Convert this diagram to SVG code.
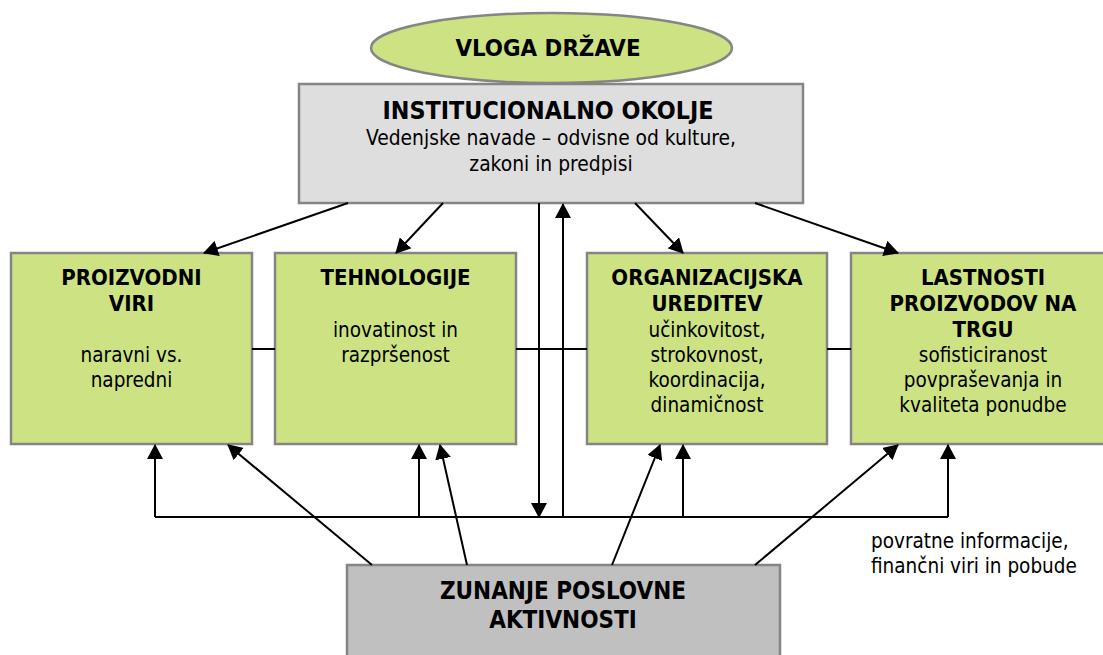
<svg xmlns="http://www.w3.org/2000/svg" width="1103" height="655" viewBox="0 0 1103 655">
<style>
.green{fill:#CDE383;stroke:#858585;stroke-width:2.5}
.inst{fill:#DEDEDE;stroke:#858585;stroke-width:2.5}
.ext{fill:#C0C0C0;stroke:#858585;stroke-width:2.5}
text{font-family:"DejaVu Sans Condensed","DejaVu Sans",Verdana,sans-serif;font-stretch:condensed;fill:#000}
.t{text-anchor:middle}
.h{font-weight:bold;font-size:22px}
.b{font-size:20.5px}
.c line{stroke:#000;stroke-width:2;fill:none}
</style>
<defs>
<marker id="ah" viewBox="0 0 15 16" refX="14" refY="8" markerWidth="15" markerHeight="16" markerUnits="userSpaceOnUse" orient="auto">
<path d="M0,0 L15,8 L0,16 z" fill="#000"/>
</marker>
</defs>
<g id="vloga">
<ellipse cx="551.5" cy="48" rx="180.5" ry="35" class="green"/>
<text class="t" x="548" y="56" font-weight="bold" font-size="23.8">VLOGA DRŽAVE</text>
</g>
<g id="institucionalno">
<rect x="299" y="84" width="504" height="119" class="inst"/>
<text class="t" x="548" y="119" font-weight="bold" font-size="24.8">INSTITUCIONALNO OKOLJE</text>
<text class="t" x="551" y="145" font-size="20.8">Vedenjske navade – odvisne od kulture,</text>
<text class="t" x="551" y="171" font-size="20.8">zakoni in predpisi</text>
</g>
<g id="proizvodni">
<rect x="11" y="253" width="241" height="191" class="green"/>
<text class="t h" x="131.5" y="285">PROIZVODNI</text>
<text class="t h" x="131.5" y="311">VIRI</text>
<text class="t b" x="131.5" y="362">naravni vs.</text>
<text class="t b" x="131.5" y="387">napredni</text>
</g>
<g id="tehnologije">
<rect x="275" y="253" width="241" height="191" class="green"/>
<text class="t h" x="395.5" y="285">TEHNOLOGIJE</text>
<text class="t b" x="395.5" y="337">inovatinost in</text>
<text class="t b" x="395.5" y="362">razpršenost</text>
</g>
<g id="organizacijska">
<rect x="587" y="253" width="240" height="191" class="green"/>
<text class="t h" x="707" y="285">ORGANIZACIJSKA</text>
<text class="t h" x="707" y="311">UREDITEV</text>
<text class="t b" x="707" y="337">učinkovitost,</text>
<text class="t b" x="707" y="362">strokovnost,</text>
<text class="t b" x="707" y="387">koordinacija,</text>
<text class="t b" x="707" y="412">dinamičnost</text>
</g>
<g id="lastnosti">
<rect x="851" y="253" width="264" height="191" class="green"/>
<text class="t h" x="983" y="285">LASTNOSTI</text>
<text class="t h" x="983" y="311">PROIZVODOV NA</text>
<text class="t h" x="983" y="337">TRGU</text>
<text class="t b" x="983" y="362">sofisticiranost</text>
<text class="t b" x="983" y="387">povpraševanja in</text>
<text class="t b" x="983" y="412">kvaliteta ponudbe</text>
</g>
<g id="zunanje">
<rect x="347" y="565" width="433" height="100" class="ext"/>
<text class="t" x="563" y="599" font-weight="bold" font-size="24">ZUNANJE POSLOVNE</text>
<text class="t" x="563" y="628" font-weight="bold" font-size="24">AKTIVNOSTI</text>
</g>
<g id="opomba">
<text x="871" y="548" font-size="20.5">povratne informacije,</text>
<text x="871" y="573" font-size="20.5">finančni viri in pobude</text>
</g>
<g id="connectors" class="c">
<line x1="348" y1="203" x2="204" y2="253" marker-end="url(#ah)"/>
<line x1="443" y1="203" x2="396" y2="253" marker-end="url(#ah)"/>
<line x1="635" y1="203" x2="683" y2="253" marker-end="url(#ah)"/>
<line x1="755" y1="203" x2="898" y2="253" marker-end="url(#ah)"/>
<line x1="539" y1="203" x2="539" y2="517" marker-end="url(#ah)"/>
<line x1="563" y1="517" x2="563" y2="204" marker-end="url(#ah)"/>
<line x1="252" y1="349" x2="275" y2="349"/>
<line x1="516" y1="349" x2="587" y2="349"/>
<line x1="827" y1="349" x2="851" y2="349"/>
<line x1="155" y1="517" x2="948" y2="517"/>
<line x1="155" y1="517" x2="155" y2="445" marker-end="url(#ah)"/>
<line x1="419" y1="517" x2="419" y2="445" marker-end="url(#ah)"/>
<line x1="683" y1="517" x2="683" y2="445" marker-end="url(#ah)"/>
<line x1="948" y1="517" x2="948" y2="445" marker-end="url(#ah)"/>
<line x1="372" y1="565" x2="228" y2="445" marker-end="url(#ah)"/>
<line x1="467" y1="565" x2="440" y2="445" marker-end="url(#ah)"/>
<line x1="612" y1="565" x2="660" y2="445" marker-end="url(#ah)"/>
<line x1="755" y1="565" x2="898" y2="445" marker-end="url(#ah)"/>
</g>
</svg>
